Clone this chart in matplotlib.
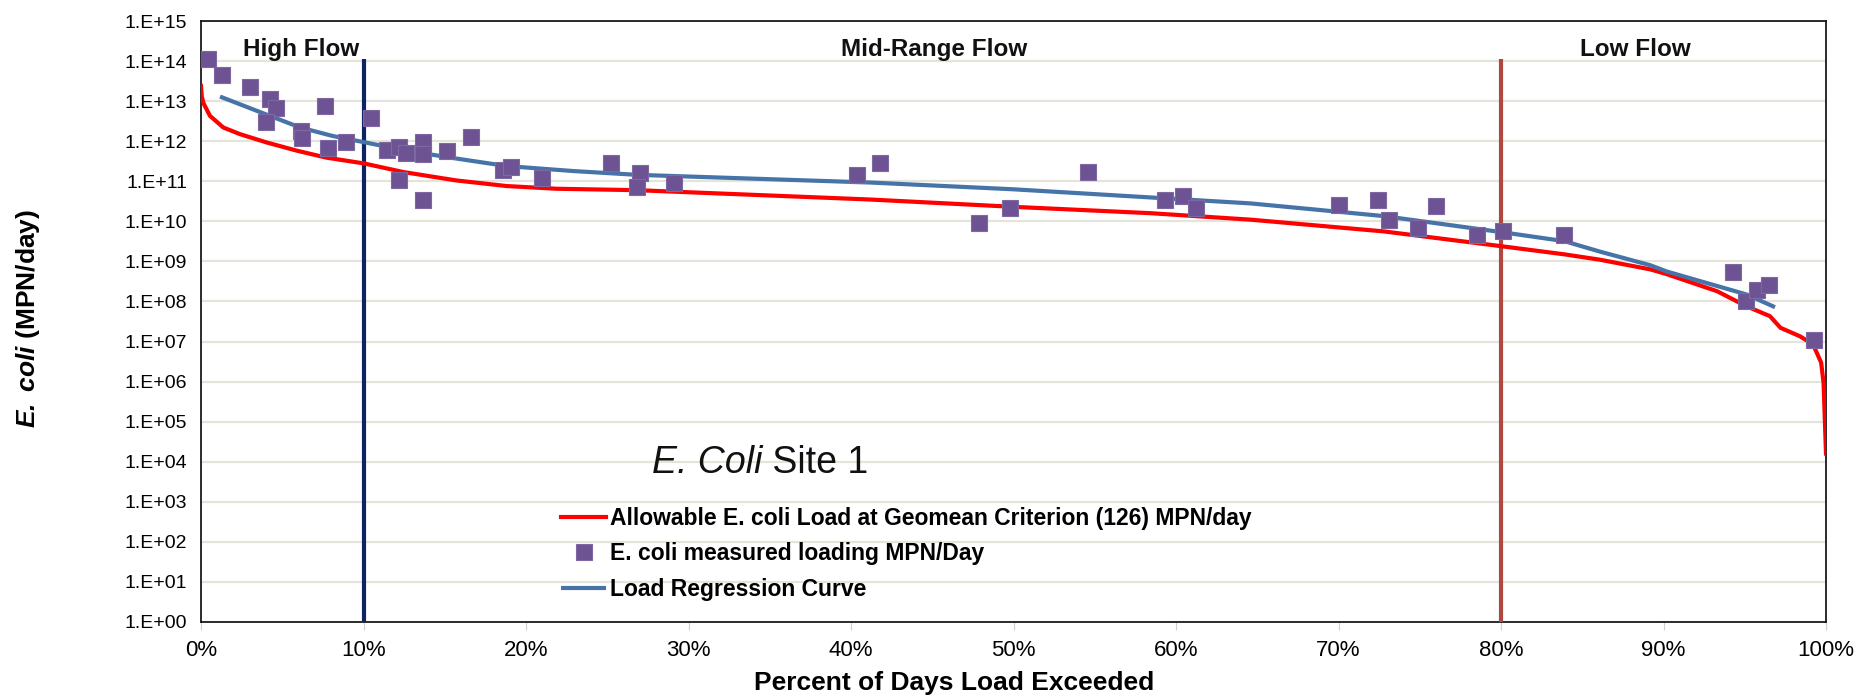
import matplotlib
matplotlib.use("Agg")
import matplotlib.pyplot as plt
from matplotlib.ticker import FixedLocator, FixedFormatter

plt.rcParams['font.family'] = ['Liberation Sans', 'DejaVu Sans']
plt.rcParams['mathtext.fontset'] = 'custom'
plt.rcParams['mathtext.it'] = 'Liberation Sans:italic'
plt.rcParams['mathtext.bf'] = 'Liberation Sans:bold'
plt.rcParams['mathtext.bfit'] = 'Liberation Sans:bold:italic'
plt.rcParams['mathtext.rm'] = 'Liberation Sans'

# ---- data ----
meas_pct = [0.45, 1.29, 3.03, 4.25, 4.62, 4.02, 6.15, 6.2, 7.63, 7.8, 8.94, 10.46,
            11.47, 12.18, 12.62, 12.18, 13.66, 13.66, 13.66, 15.16, 16.6, 18.6, 19.08,
            21.0, 25.2, 27.0, 26.8, 29.1, 40.35, 41.8, 47.9, 49.8, 54.6, 59.3, 60.4,
            61.2, 70.0, 72.4, 73.1, 74.9, 76.0, 78.5, 80.1, 83.9, 94.26, 95.06, 95.74,
            96.47, 99.28]
meas_load = [1.12e14, 4.5e13, 2.3e13, 1.1e13, 6.9e12, 3.0e12, 1.8e12, 1.2e12, 7.6e12,
             6.8e11, 9.8e11, 3.9e12, 6.0e11, 7.2e11, 5.2e11, 1.1e11, 9.5e11, 4.8e11,
             3.5e10, 5.8e11, 1.3e12, 1.9e11, 2.3e11, 1.2e11, 2.8e11, 1.6e11, 7.4e10,
             8.9e10, 1.4e11, 2.8e11, 9.3e9, 2.2e10, 1.7e11, 3.5e10, 4.2e10, 2.1e10,
             2.5e10, 3.5e10, 1.05e10, 6.8e9, 2.4e10, 4.5e9, 5.8e9, 4.5e9, 5.4e8,
             1.0e8, 1.9e8, 2.6e8, 1.1e7]

allow_pct = [0, 0.05, 0.15, 0.55, 1.37, 2.4, 4.04, 5.9, 7.7, 10.0, 12.45, 15.7, 18.8,
             21.9, 26.8, 41.2, 50.0, 58.4, 64.6, 72.8, 80.0, 83.9, 86.1, 89.2, 90.2,
             93.3, 95.1, 96.55, 97.2, 98.4, 99.2, 99.7, 99.85, 100.0]
allow_load = [2.4e13, 1.3e13, 8.9e12, 4.3e12, 2.2e12, 1.5e12, 9.3e11, 5.8e11, 3.9e11,
              2.8e11, 1.7e11, 1.05e11, 7.6e10, 6.5e10, 6.0e10, 3.5e10, 2.3e10, 1.6e10,
              1.1e10, 5.6e9, 2.4e9, 1.5e9, 1.1e9, 6.3e8, 4.8e8, 1.8e8, 7.6e7, 4.3e7,
              2.2e7, 1.35e7, 8.5e6, 3.0e6, 9.3e5, 1.6e4]

regr_pct = [1.17, 3.4, 6.1, 8.1, 10.0, 12.66, 15.7, 18.8, 22.9, 26.8, 41.2, 50.0, 59.6,
            64.6, 72.8, 80.0, 83.9, 86.1, 89.2, 90.2, 95.1, 96.86]
regr_load = [1.3e13, 5.8e12, 2.2e12, 1.35e12, 9.5e11, 5.8e11, 3.7e11, 2.4e11, 1.8e11,
             1.45e11, 9.3e10, 6.3e10, 3.7e10, 2.8e10, 1.35e10, 5.4e9, 3.2e9, 1.75e9,
             8.0e8, 5.6e8, 1.5e8, 7.2e7]

zone_bounds = [10, 80]
zone_colors = ['#0c2463', '#b04842']
zone_top = 1.1e14
zone_names = ['High Flow', 'Mid-Range Flow', 'Low Flow']
zone_label_x = [6.18, 45.1, 88.3]

xticks = list(range(0, 101, 10))
xtick_labels = [f"{v}%" for v in xticks]
yexp = list(range(0, 16))
ytick_labels = [f"1.E+{e:02d}" for e in yexp]

legend_labels = ['Allowable E. coli Load at Geomean Criterion (126) MPN/day',
                 'E. coli measured loading MPN/Day',
                 'Load Regression Curve']

# ---- figure ----
W, H = 1875, 699
fig = plt.figure(figsize=(W / 100, H / 100), dpi=100)
L, R, T, B = 201, 1826, 21, 622
ax = fig.add_axes([L / W, 1 - B / H, (R - L) / W, (B - T) / H])

ax.set_yscale('log')
ax.set_xlim(0, 100)
ax.set_ylim(1, 1e15)

ax.yaxis.set_major_locator(FixedLocator([10.0 ** e for e in yexp]))
ax.yaxis.set_major_formatter(FixedFormatter(ytick_labels))
ax.yaxis.set_minor_locator(FixedLocator([]))
ax.xaxis.set_major_locator(FixedLocator(xticks))
ax.xaxis.set_major_formatter(FixedFormatter(xtick_labels))

ax.grid(axis='y', which='major', color='#e4e4da', linewidth=1.6)
ax.set_axisbelow(True)
for s in ax.spines.values():
    s.set_color('#1a1a1a')
    s.set_linewidth(1.3)

ax.tick_params(axis='y', length=0, pad=10, labelsize=14, colors='#000000')
ax.tick_params(axis='x', length=6, direction='out', color='#cfcfcf', pad=7,
               labelsize=16)

# zone dividers
for xb, c in zip(zone_bounds, zone_colors):
    ax.plot([xb, xb], [1, zone_top], color=c, linewidth=3, solid_capstyle='butt', zorder=3)

l1, = ax.plot(allow_pct, allow_load, color='#ff0000', linewidth=3, zorder=4,
              solid_joinstyle='round')
l3, = ax.plot(regr_pct, regr_load, color='#4673a8', linewidth=3, zorder=5,
              solid_capstyle='butt')
l2, = ax.plot(meas_pct, meas_load, linestyle='none', marker='s', markersize=11,
              markerfacecolor='#6d5393', markeredgecolor='#7e68a2',
              markeredgewidth=0.8, zorder=6)

for name, xp in zip(zone_names, zone_label_x):
    ax.text(xp, 10 ** 14.13, name, ha='center', va='baseline', fontsize=17.5,
            fontweight='bold', color='#111111', zorder=7)

t_it = ax.text(27.75, 10 ** 3.725, "E. Coli", fontsize=27, fontstyle='italic',
               ha='left', va='baseline', color='#111111')
ax.annotate(" Site 1", xy=(1, 0), xycoords=t_it, fontsize=27, ha='left',
            va='bottom', color='#111111')

leg = ax.legend([l1, l2, l3], legend_labels, loc='upper left',
                bbox_to_anchor=(0.2215, 0.192),
                frameon=False, prop={'weight': 'bold', 'size': 16.5},
                handlelength=1.97, handletextpad=0.17, labelspacing=0.56,
                borderaxespad=0, borderpad=0)

ax.set_xlabel('Percent of Days Load Exceeded', fontsize=19, fontweight='bold')
ax.xaxis.label.set_va('baseline')
ax.xaxis.set_label_coords(0.4634, -0.1131)
ax.set_ylabel(r"$\mathbfit{E.}$ $\mathbfit{coli}$ (MPN/day)", fontsize=19,
              fontweight='bold')
ax.yaxis.set_label_coords(-0.0978, 0.505)

fig.savefig('out.png', dpi=100, facecolor='white')
